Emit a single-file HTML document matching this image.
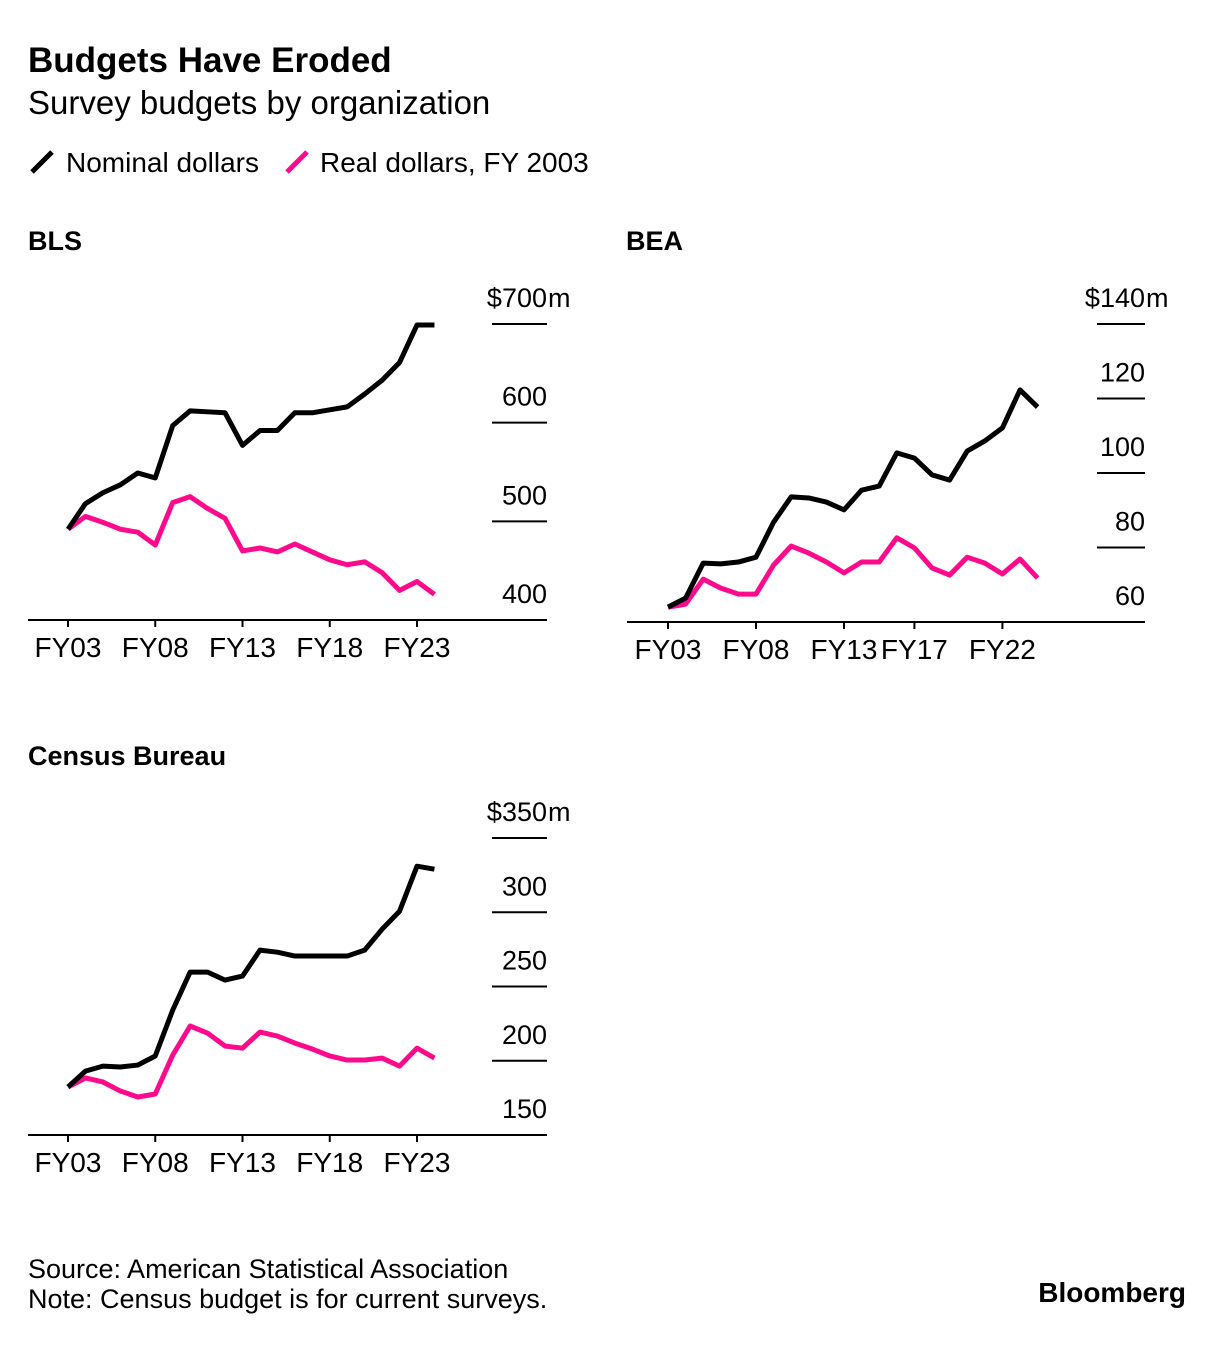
<!DOCTYPE html>
<html><head><meta charset="utf-8"><style>
body{margin:0;background:#fff;}
svg text{font-family:"Liberation Sans",sans-serif;fill:#000;}
</style></head><body>
<svg id="c" width="1225" height="1354" viewBox="0 0 1225 1354" xmlns="http://www.w3.org/2000/svg">
<text x="28" y="72" font-size="35" font-weight="bold">Budgets Have Eroded</text>
<text x="28" y="114" font-size="33">Survey budgets by organization</text>
<g>
<line x1="32" y1="172" x2="52" y2="152" stroke="#000" stroke-width="5"/>
<text x="66" y="172" font-size="28">Nominal dollars</text>
<line x1="287" y1="172" x2="307" y2="152" stroke="#ff0a8c" stroke-width="5"/>
<text x="320" y="172" font-size="28">Real dollars, FY 2003</text>
</g>
<text x="28" y="1278" font-size="27">Source: American Statistical Association</text>
<text x="28" y="1308" font-size="27">Note: Census budget is for current surveys.</text>
<text x="1186" y="1302" font-size="28" font-weight="bold" text-anchor="end">Bloomberg</text>
</svg>
<script>
const years = [2003,2004,2005,2006,2007,2008,2009,2010,2011,2012,2013,2014,2015,2016,2017,2018,2019,2020,2021,2022,2023,2024];
const blsNominal = [492,518,529,537,549,544,597,612,611,610,577,592,592,610,610,613,616,629,643,661,699,699];
const blsReal = [492,505,499,492,489,476,519,525,513,503,470,473,469,477,469,461,456,459,448,430,439,426];
const blsTicks = [400,500,600,700];
const beaNominal = [64,66.4,75.8,75.6,76.1,77.4,86.8,93.6,93.3,92.2,90.1,95.4,96.5,105.4,104,99.5,98.1,105.9,108.6,112.1,122.3,117.7];
const beaReal = [64,64.8,71.5,69.1,67.5,67.5,75.3,80.4,78.5,76.1,73.2,76.1,76.1,82.6,79.9,74.5,72.6,77.4,75.8,72.9,76.9,71.8];
const beaTicks = [60,80,100,120,140];
const censusNominal = [182.3,193,196.4,195.8,197.1,203.2,234.1,259.7,259.7,254.3,257,274.5,273.1,270.5,270.5,270.5,270.5,274.5,288.6,300.7,331,329];
const censusReal = [182.3,188.4,185.7,179.6,175.6,177.6,203.8,223.4,218.6,209.9,208.5,219.3,216.6,211.9,207.9,203.2,200.5,200.5,201.8,196.4,208.5,201.8];
const censusTicks = [150,200,250,300,350];
const blsXTicks = [2003,2008,2013,2018,2023];
const beaXTicks = [2003,2008,2013,2017,2022];

const NS="http://www.w3.org/2000/svg";
const svg=document.getElementById('c');
function mk(tag,attrs,parent){const e=document.createElementNS(NS,tag);for(const k in attrs)e.setAttribute(k,attrs[k]);(parent||svg).appendChild(e);return e;}

function panel(o){
  const g=mk('g',{});
  
  
  const t0=o.ticks[0], t1=o.ticks[o.ticks.length-1];
  const x=yr=>o.x0+(yr-2003)*o.dx;
  const y=v=>o.yBase-(v-t0)*(o.yBase-o.yTop)/(t1-t0);
  const t=mk('text',{x:28+o.ox,y:o.titleY,'font-size':27,'font-weight':'bold'},g);
  t.textContent=o.title;
  
  
  o.ticks.forEach((v,i)=>{
    const yy=y(v);
    if(i>0){const l=mk('line',{x1:o.gx1,x2:o.gx2,y1:yy,y2:yy,stroke:'#000','stroke-width':2},g);
      
      }
    const tx=mk('text',{x:o.gx2,y:yy-17,'font-size':27,'text-anchor':'end'},g);
    tx.textContent=(i==o.ticks.length-1?'$':'')+v;
    
    
    if(i==o.ticks.length-1){const m=mk('text',{x:o.gx2+1,y:yy-17,'font-size':27},g);m.textContent='m';
      
      }
  });
  const base=mk('line',{x1:o.bx1,x2:o.gx2,y1:o.yBase,y2:o.yBase,stroke:'#000','stroke-width':2},g);
  
  
  o.xt.forEach(yr=>{
    const tk=mk('line',{x1:x(yr),x2:x(yr),y1:o.yBase,y2:o.yBase+7,stroke:'#000','stroke-width':2},g);
    
    
    const tl=mk('text',{x:x(yr),y:o.yBase+37,'font-size':28,'text-anchor':'middle'},g);
    tl.textContent='FY'+String(yr).slice(2);
    
    
  });
  [[o.real,'#ff0a8c','real'],[o.nom,'#000','nominal']].forEach(([d,c,n])=>{
    const p=mk('polyline',{points:d.map((v,i)=>x(years[i])+','+y(v)).join(' '),fill:'none',stroke:c,'stroke-width':5,'stroke-linejoin':'round'},g);
    
    
  });
}
panel({id:'bls',title:'BLS',ox:0,titleY:250,x0:68,dx:17.45,yBase:620,yTop:324,ticks:blsTicks,gx1:492,gx2:547,bx1:28,xt:blsXTicks,nom:blsNominal,real:blsReal});
panel({id:'bea',title:'BEA',ox:598,titleY:250,x0:668,dx:17.6,yBase:622,yTop:324,ticks:beaTicks,gx1:1097,gx2:1145,bx1:627,xt:beaXTicks,nom:beaNominal,real:beaReal});
panel({id:'census',title:'Census Bureau',ox:0,titleY:765,x0:68,dx:17.45,yBase:1135,yTop:838,ticks:censusTicks,gx1:492,gx2:547,bx1:28,xt:blsXTicks,nom:censusNominal,real:censusReal});
</script>
</body></html>
